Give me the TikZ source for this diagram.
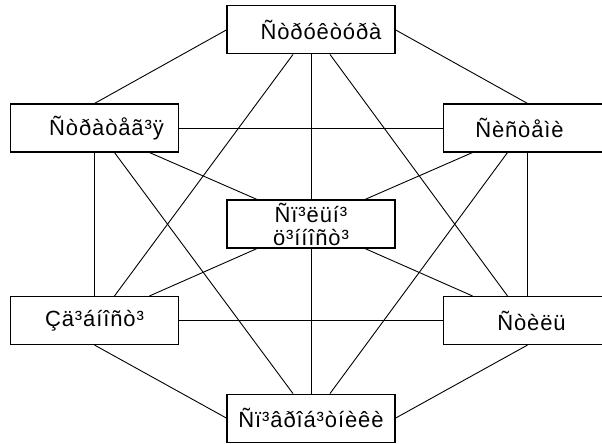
\documentclass[tikz,border=0pt]{standalone}
\usepackage{fontspec}
\setmainfont{Liberation Sans}[LetterSpace=4]
\usetikzlibrary{positioning}

\begin{document}
\begin{tikzpicture}[
    x=1pt, y=-1pt,
    box/.style={draw, rectangle, fill=white, line width=1.1pt, minimum height=48pt, minimum width=168pt, inner sep=0pt, align=center, font=\fontsize{22pt}{23pt}\selectfont},
    link/.style={line width=0.9pt}
]
\useasboundingbox (0,0) rectangle (602,444);

% Nodes
\node [box] (values) at (311,224) {Ñï³ëüí³\\ö³ííîñò³};
\node [box, above=145pt of values] (structure) {\hspace*{20pt}Ñòðóêòóðà};
\node [box, below=145pt of values] (staff) {Ñï³âðîá³òíèêè};
\node [box] (strategy) at (94.5,128) {\hspace*{24pt}Ñòðàòåã³ÿ};
\node [box] (systems) at (527.5,128) {Ñèñòåìè\hspace*{16pt}};
\node [box] (skills) at (94.5,320.5) {Çä³áíîñò³};
\node [box] (style) at (527.5,320.5) {\hspace*{8pt}Ñòèëü};

% Lines
\draw [link] (structure.west) -- (strategy.north);
\draw [link] (structure.east) -- (systems.north);
\draw [link] (structure.south) -- (values.north);
\draw [link] (values.south) -- (staff.north);
\draw [link] ([xshift=-18pt]structure.south) -- ([xshift=20pt]skills.north);
\draw [link] ([xshift=19pt]structure.south) -- ([xshift=-20pt]style.north);

\draw [link] (strategy.east) -- (systems.west);
\draw [link] (strategy.south) -- (skills.north);
\draw [link] ([xshift=55pt]strategy.south) -- ([xshift=-54pt]values.north);
\draw [link] ([xshift=20pt]strategy.south) -- ([xshift=-18pt]staff.north);

\draw [link] (systems.south) -- (style.north);
\draw [link] ([xshift=-55pt]systems.south) -- ([xshift=54pt]values.north);
\draw [link] ([xshift=-20pt]systems.south) -- ([xshift=19pt]staff.north);

\draw [link] (skills.east) -- (style.west);
\draw [link] ([xshift=55pt]skills.north) -- ([xshift=-54pt]values.south);
\draw [link] (skills.south) -- (staff.west);

\draw [link] ([xshift=-55pt]style.north) -- ([xshift=54pt]values.south);
\draw [link] (style.south) -- (staff.east);

\end{tikzpicture}
\end{document}
